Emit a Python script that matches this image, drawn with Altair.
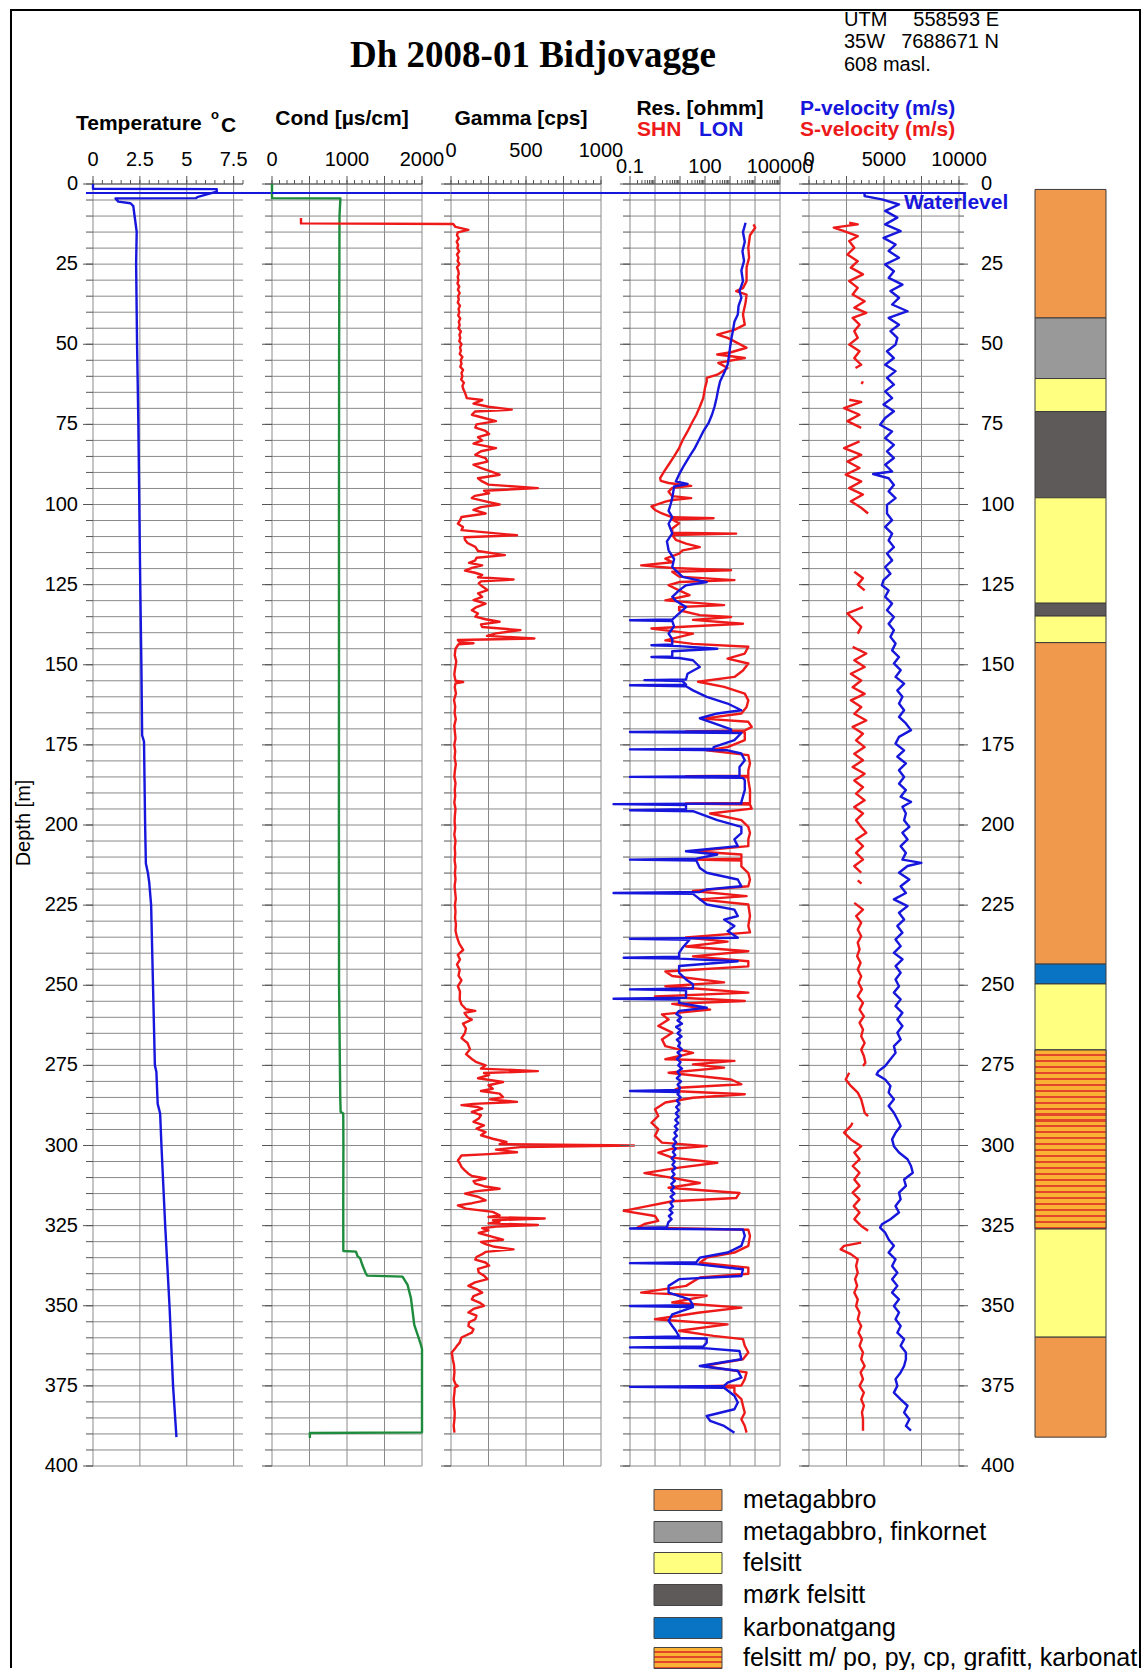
import altair as alt
import pandas as pd

# ------------------------------------------------------------------
# Borehole Dh 2008-01, Bidjovagge - geophysical logs vs depth (m)
# ------------------------------------------------------------------
WATERLEVEL = 2.8

# Temperature (deg C)
temperature = [
    (0.0, 0.0), (1.5, 0.0), (1.6, 6.6), (2.4, 6.6), (4.0, 5.6), (4.4, 5.5), (4.5, 1.2),
    (5.5, 1.35), (6.0, 2.0), (6.9, 2.15), (9.2, 2.2), (14.9, 2.33), (25, 2.3), (50, 2.35),
    (75, 2.42), (100, 2.47), (125, 2.52), (150, 2.58), (172, 2.62), (174, 2.72), (200, 2.78),
    (212, 2.82), (215, 2.93), (218, 3.0), (225, 3.1), (250, 3.2), (275, 3.3), (277, 3.38),
    (287, 3.45), (290, 3.58), (300, 3.65), (325, 3.85), (350, 4.08), (375, 4.27), (391, 4.45),
]

# Fluid conductivity (uS/cm)
conductivity = [
    (0.0, 0), (4.4, 0), (4.5, 912), (10, 900), (50, 895), (100, 893), (150, 893), (200, 892),
    (250, 894), (285, 910), (289.5, 915), (290, 950), (300, 952), (320, 950), (332.9, 951),
    (333.1, 1120), (334.5, 1140), (335.2, 1175), (337.3, 1205), (339.9, 1250), (340.6, 1270),
    (340.9, 1740), (343.5, 1808), (347.7, 1853), (351.8, 1875), (356.0, 1897), (359.1, 1942),
    (362.3, 1987), (363.5, 2000), (389.5, 2000), (389.7, 505), (391.3, 505),
]

# Natural gamma (cps)
gamma = [
    (10.6, -1000), (12.3, -1000), (12.5, 15), (13.4, 30), (14.3, 116), (15.1, 45),
    (16, 40), (17, 52), (18, 38), (19, 48), (20, 42), (21, 55), (22, 40), (23, 50), (24, 44), (25, 56),
    (26, 40), (27, 48), (28, 52), (29, 45), (30, 50), (31, 43), (32, 55), (33, 46), (34, 58), (35, 47),
    (36, 52), (37, 45), (38, 60), (39, 50), (40, 56), (41, 48), (42, 62), (43, 52), (44, 58), (45, 50),
    (46, 66), (47, 56), (48, 62), (49, 55), (50, 70), (51, 60), (52, 66), (53, 58), (54, 76), (55, 64),
    (56, 70), (57, 62), (58, 80), (59, 70), (60, 76), (61, 68), (62, 86), (63, 76), (64, 82), (65, 92),
    (66, 100), (66.8, 105), (67.4, 208), (68.5, 150), (69.5, 250), (70.4, 405), (71, 160), (72, 139),
    (73, 220), (74, 300), (75, 170), (76, 162), (77, 230), (78, 254), (79, 180), (80, 208), (81, 150),
    (82.4, 300), (83.4, 200), (84.5, 162), (85.5, 230), (86.6, 243), (87.6, 150), (88.6, 197), (89.6, 260),
    (90.7, 324), (91.8, 180), (92.8, 208), (93.8, 250), (94.9, 579), (95.7, 220), (96.5, 254), (97.3, 160),
    (98, 139), (99, 230), (100, 324), (100.8, 200), (101.7, 150), (102.8, 231), (103.9, 70), (105, 60),
    (106, 46), (107, 80), (108, 70), (109.6, 440), (110.2, 90), (111, 93), (112, 110), (113.2, 162),
    (114.5, 180), (115.8, 359), (116.6, 170), (117.4, 162), (118.2, 120), (119, 208), (119.8, 140),
    (120.6, 93), (121.3, 160), (122, 208), (122.7, 180), (123.4, 417), (124, 200), (124.6, 185),
    (125.6, 210), (126.7, 243), (127.7, 180), (128.8, 208), (129.8, 150), (130.9, 231), (132, 170),
    (133, 139), (134, 180), (135, 162), (135.8, 230), (136.6, 324), (137.4, 200), (138.2, 208),
    (139.2, 463), (140.2, 300), (141, 240), (141.8, 556), (142.3, 46), (143, 60), (143.3, 150), (143.6, 50),
    (145, 30), (147, 25), (149, 35), (151, 28), (153, 22), (155, 30), (155.4, 81), (155.8, 30), (157, 25),
    (159, 33), (161, 20), (163, 28), (165, 24), (167, 32), (169, 22), (171, 26), (173, 30), (175, 22),
    (177, 28), (179, 24), (181, 32), (183, 26), (185, 22), (187, 30), (189, 25), (191, 28), (193, 22),
    (195, 30), (197, 26), (199, 24), (201, 28), (203, 22), (205, 30), (207, 25), (209, 28), (211, 24),
    (213, 30), (215, 26), (217, 30), (219, 24), (221, 28), (223, 32), (225, 26), (227, 30), (229, 27),
    (231, 33), (233, 30), (235, 40), (237, 55), (239, 81), (240.5, 45), (242, 60), (243.5, 40), (245.2, 58),
    (247, 50), (248.5, 70), (250.3, 46), (252, 60), (254.4, 58), (256, 70), (257.5, 100), (258, 162),
    (258.6, 90), (260, 110), (260.7, 139), (262, 80), (263.5, 100), (264.9, 93), (266.5, 70), (268, 110),
    (270, 127), (271.5, 100), (273, 139), (274, 170), (275, 231), (276, 200), (276.8, 579), (277.4, 220),
    (278, 254), (279, 180), (280.2, 347), (281.2, 250), (282.3, 278), (283, 200), (283.8, 324), (284.9, 347),
    (285.6, 260), (286.4, 440), (287, 150), (287.4, 70), (288, 180), (288.5, 208), (289.5, 139), (290.5, 200),
    (291.6, 185), (292.6, 150), (293.7, 220), (294.7, 170), (295.8, 231), (296.8, 200), (297.9, 278),
    (298.9, 370), (299.6, 324), (300.0, 1220), (300.5, 463), (301.3, 300), (302.1, 440), (302.7, 250),
    (303.1, 70), (304.7, 46), (305.7, 60), (306.7, 70), (307.7, 90), (308.8, 116), (309.5, 140), (310.3, 231),
    (311.1, 150), (311.9, 162), (312.7, 220), (313.5, 324), (314.3, 160), (315, 93), (316, 180), (317.1, 231),
    (318, 140), (318.7, 46), (319.7, 100), (320.7, 278), (321.8, 324), (322.3, 250), (322.8, 625), (323.3, 280),
    (323.8, 324), (324.3, 250), (324.8, 579), (325.3, 300), (325.8, 208), (326.5, 250), (327.3, 185),
    (328.3, 260), (329.4, 347), (330.1, 200), (330.8, 231), (331.6, 290), (332.4, 417), (333.2, 230),
    (333.9, 208), (334.8, 170), (335.6, 162), (336.5, 230), (337.5, 254), (338.5, 180), (339.6, 185),
    (340.6, 220), (341.7, 243), (342.7, 160), (343.8, 116), (344.8, 170), (345.9, 208), (347, 150), (348, 139),
    (349, 190), (350, 220), (351, 150), (352.1, 116), (353.1, 170), (354.2, 162), (355.2, 120), (356.3, 116),
    (357.3, 150), (358.4, 139), (359.9, 70), (361.5, 58), (362.5, 40), (363.6, 23), (364.6, 5), (366.7, 12),
    (368.5, 20), (370.8, 23), (373, 18), (374.5, 30), (375, 46), (375.5, 25), (377.1, 23), (379, 18),
    (381.2, 20), (383.3, 25), (385.4, 23), (387.5, 18), (389.6, 23),
]

# Resistivity, long normal (ohmm)
res_lon = [
    (12.1, 4200), (15, 3300), (18, 3900), (21, 3150), (24, 3650), (27, 2850), (30.3, 3300), (33.4, 2400),
    (35.5, 2850), (38, 2200), (40.7, 2050), (43, 1500), (45.9, 1300), (48, 1150), (51.1, 1000), (53.5, 920),
    (56.4, 800), (59, 580), (61.6, 400), (64, 340), (66.8, 290), (69.5, 240), (72, 190), (74.5, 140),
    (77.2, 85), (79.8, 58), (82.4, 39), (85, 24), (87.6, 15), (90.2, 9.8), (92.8, 6.8), (93.6, 20),
    (94.4, 5.8), (96, 5.4), (98, 4.9), (100, 4.2), (102, 3.5),
    (103.9, 4.9), (106, 3.5), (109, 4.9), (111.5, 3.0), (114.3, 3.5), (117, 5.8), (119.5, 4.9), (122.6, 12.6),
    (124.2, 117), (125.2, 17.4), (126.8, 9.2), (128.8, 4.9), (130, 6.8), (132, 17.4), (134, 9.2), (135.9, 4.9),
    (136.1, 0.1), (136.4, 4.9), (138, 5.8), (140.3, 3.5), (142, 4.9), (143.7, 4.9), (143.9, 0.72), (144.2, 9.2),
    (145, 310), (145.8, 4.9), (147.4, 4.9), (147.6, 0.72), (147.9, 9.2), (148.6, 33), (150.7, 62), (152.8, 20),
    (154.6, 17.4), (154.8, 0.38), (155.1, 12.6), (156.2, 17.4), (156.4, 0.1), (156.7, 17.4), (158, 33),
    (160, 117), (162.1, 800), (164.2, 2850), (165.2, 310), (166.7, 62), (168.2, 220), (170.2, 1100),
    (170.7, 1100), (171.0, 0.1), (171.3, 2850), (173.5, 1500), (175.7, 220), (176.2, 220), (176.4, 0.1),
    (176.7, 800), (177.7, 2850), (179.8, 3900), (181.9, 2400), (184.7, 2400), (185.0, 0.1), (185.3, 3300),
    (186, 3900), (189.1, 3900), (192.8, 2850), (193.3, 2850), (193.5, 0.022), (193.8, 17.4), (195.1, 17.4),
    (195.4, 0.1), (195.7, 33), (198.5, 310), (200.6, 2850),
    (202.5, 2850), (204.5, 1500), (206.6, 2050), (208.2, 17.4), (209.2, 310), (210.5, 45), (210.8, 0.1),
    (211.1, 45), (213.4, 62), (214.9, 117), (217, 2050), (219.1, 2850), (220.1, 117), (220.9, 62),
    (221.2, 0.022), (221.5, 33), (224.8, 117), (226.4, 1500), (228.4, 2050), (229.5, 580), (231.5, 1500),
    (233.1, 800), (235.2, 2050), (235.5, 0.1), (235.8, 24), (238.3, 12.6), (239.9, 9.2), (241.1, 9.2),
    (241.4, 0.056), (241.7, 9.2), (242.5, 2050), (244, 9.2), (246.1, 9.2), (248.2, 17.4), (249.7, 33),
    (251, 33), (251.3, 0.1), (251.6, 17.4), (253.9, 17.4), (254.2, 0.022), (254.5, 9.2), (255.5, 9.2),
    (257, 117), (258, 9.2), (259, 7.2), (260, 11), (261, 8), (262, 12), (263, 7), (264, 10.5), (265, 8),
    (266, 11.5), (267, 7.5), (268, 10), (269, 8.5), (270, 12), (271, 8), (272, 11), (273, 7.5), (274, 10.5),
    (275, 8.5), (276, 12), (277, 8), (278, 10), (279, 7.5), (280, 11), (281, 8), (282, 10), (282.7, 9.2),
    (283.0, 0.1), (283.3, 9.2), (284, 8), (285, 10.5), (286, 7.5), (287, 9.5), (288, 7), (289, 9),
    (290, 6.8), (291, 8.8), (292, 6.5), (293, 8.5), (294, 6.2), (295, 8), (296, 6), (297, 7.5), (298, 5.5),
    (299, 7), (300.2, 5.2), (301, 6.8), (302, 5.2), (303, 6.5), (304, 4.6), (305, 6.2), (306, 5),
    (307, 6.6), (308, 4.8), (309, 6), (310, 4.6), (311, 6.2), (312, 4.5), (313, 5.8), (314, 4.4), (315, 6),
    (316, 4.2), (317, 5.6), (318, 4.2), (319, 5.2), (320, 3.8), (321, 5), (322, 3.6), (323, 4.6),
    (324, 3.4), (325.5, 3.0), (325.9, 0.1), (326.2, 3300), (328.2, 3900), (331.3, 2850), (333.4, 800),
    (335, 62), (336.4, 45), (336.7, 0.1), (337, 45), (338.6, 3300), (340.7, 2850), (341.7, 9.2),
    (343.8, 3.5), (345.9, 3.5), (348, 24), (349.8, 33), (350.1, 0.1), (350.4, 33), (352.7, 4.9),
    (354.7, 3.5), (356.3, 4.9), (357.8, 6.8), (359.6, 9.2), (359.9, 0.1), (360.2, 117), (361.5, 117),
    (362.7, 85), (363.0, 0.1), (363.3, 117), (364.1, 2400), (366.7, 2850), (368.8, 62), (370.3, 2050),
    (372.4, 2850), (374, 800), (375, 580), (375.3, 0.1), (375.6, 580), (378.1, 1500), (380.2, 2050),
    (382.3, 1500), (384.4, 117), (385.9, 160), (387.5, 580), (389.6, 1500),
]

# Resistivity, short normal (ohmm)
res_shn = [
    (12.6, 8700), (13.6, 10200), (16, 6300), (19.9, 5400), (23, 5800), (26, 4600), (30.3, 4600),
    (32.5, 3300), (33.4, 1760), (34.5, 4600), (37, 4200), (40.7, 3300), (43.9, 3900), (45.5, 1500),
    (47, 310), (48, 800), (49.1, 1500), (50.5, 3300), (51.1, 4600), (52.5, 1100), (53.2, 310),
    (54.3, 3900), (55.8, 340), (57.4, 800), (59.5, 310), (60.5, 117), (61.6, 117), (63.6, 100),
    (66.8, 85), (69.5, 62), (72, 45), (74.5, 30), (77.2, 20), (79.8, 13), (82.4, 9.2), (85, 5.8),
    (87.6, 3.5), (89.5, 2.4), (91.8, 1.6), (92.6, 1.7), (93.3, 3.5), (94.2, 28), (94.8, 4.9), (96, 3.5),
    (97.4, 4.9), (98, 28), (98.6, 4.9), (99.1, 2.6), (100.6, 0.72), (101.7, 1.0),
    (102.8, 1.9), (104, 4.9), (104.3, 220), (104.7, 4.9), (105.9, 9.2), (107.5, 4.9), (108.8, 4.9),
    (109.1, 1760), (109.5, 4.9), (111, 6.8), (112.2, 17.4), (113.3, 62), (114.3, 12.6), (115.3, 9.2),
    (116.9, 2.6), (118, 4.9), (119, 0.28), (119.8, 4.9), (120.5, 1100), (121, 4.9), (122.5, 9.2),
    (123.6, 1500), (124.2, 9.2), (125.2, 3.5), (126.8, 9.2), (128.3, 24), (129.9, 2.6), (131.4, 580),
    (132, 9.2), (133, 9.2), (134.5, 62), (135.1, 1100), (136, 33), (137.2, 3300), (138, 33), (138.7, 0.72),
    (139.5, 4.9), (140.3, 33), (142.4, 2.6), (143.5, 33), (144.4, 5400), (146.5, 3900), (148.1, 800),
    (149.6, 5400), (151.8, 3300), (153.8, 1500), (155.3, 53), (156.9, 580), (159, 3900), (161.1, 5400),
    (163.2, 4600), (165.2, 2850), (166.8, 85), (167.8, 5400), (169.4, 7400), (170.5, 3900), (170.8, 17.4),
    (171.1, 3900), (173.5, 3900), (175.7, 800), (176.7, 117), (178.2, 5400), (180.8, 6300), (182.9, 5400),
    (184.6, 5400), (184.8, 17.4), (185.1, 5400), (186, 5400), (189.1, 6300), (192.3, 6300), (193.1, 6300),
    (193.3, 17.4), (193.6, 6300), (194.9, 7400), (196.4, 160), (198.5, 2850), (200.6, 5400),
    (202.5, 6300), (204.5, 5400), (206.6, 5400), (208.2, 33), (209.2, 2850), (210.5, 2850), (210.8, 33),
    (211.1, 2850), (212.9, 2850), (215, 5400), (217, 6300), (219.1, 5400), (220.6, 33), (222.2, 4600),
    (223.2, 62), (224.8, 5400), (228.4, 6300), (231.5, 5400), (233.5, 6300), (235.1, 17.4), (236.4, 800),
    (237.9, 17.4), (239.4, 5400), (241, 33), (242.5, 5400), (244.1, 5400), (245.7, 2.6), (247.1, 4.9),
    (249.1, 580), (250.3, 2.6), (252.3, 5400), (253.5, 1.0), (254.9, 3900), (255.8, 4.9), (257.6, 160),
    (259.1, 1.9), (260.7, 3.5), (262.7, 1.35), (264.8, 4.9), (266.9, 1.9), (269, 2.6), (271.1, 33),
    (273.1, 2.6), (273.6, 1500), (274.7, 33), (275.7, 580), (277.3, 3.5), (279.4, 1100), (280.9, 2850),
    (282, 9.2), (283, 4.9), (284, 3900), (285.1, 33), (286.6, 2.6), (288.7, 1.0), (290.8, 1.35),
    (292.9, 0.72), (294.9, 1.35), (297, 1.0), (299.1, 1.9), (300.2, 117),
    (301, 4.9), (302.2, 1.35), (303.8, 4.9), (305.4, 310), (306.9, 9.2), (308.6, 0.38), (310.1, 4.9),
    (311.7, 62), (313.2, 3.5), (314.8, 2400), (316.4, 1760), (317.4, 4.9), (318.9, 0.5), (320.4, 0.056),
    (322, 1.0), (323.5, 1.35), (324.5, 0.38), (325.6, 0.2), (326.3, 5400), (328.2, 6300), (331.3, 5400),
    (333.4, 1500), (335, 117), (336.6, 62), (338.1, 5400), (340, 5400), (341.2, 62), (343.8, 17.4),
    (345.9, 0.28), (346.9, 117), (349, 4.9), (350.6, 2850), (352.1, 62), (354.2, 1.0), (355.8, 800),
    (357.8, 9.2), (359.4, 220), (360.4, 3300), (362.5, 3900), (364.6, 5400), (366.7, 3300), (368.8, 85),
    (370.8, 4600), (372.9, 3900), (374.9, 2850), (375.2, 24), (375.5, 1500), (377.1, 1500), (379.1, 2850),
    (381.2, 3300), (383.4, 3900), (385.4, 2850), (387.5, 3900), (389.6, 4600),
]

# P-wave velocity (m/s)
p_velocity = [
    (2.9, 3700), (3.8, 3710), (4.8, 4860), (6.4, 6000), (8.4, 5080), (10.5, 5890), (12.6, 5080),
    (14.7, 6110), (16.8, 4970), (18.9, 5770), (20.9, 5310), (23, 6000), (25.1, 5080), (27.2, 5660),
    (29.3, 5310), (31.4, 6230), (33.4, 5430), (35.5, 6000), (37.6, 5540), (39.7, 6570), (41.8, 5310),
    (43.9, 6000), (45.9, 5430), (48, 5890), (50.1, 5770), (52.2, 5200), (54.3, 5660), (56.4, 5080),
    (58.4, 5770), (60.5, 5200), (62.6, 5660), (64.7, 5080), (66.8, 5540), (68.8, 4970), (70.9, 5660),
    (73, 5080), (75.1, 4740), (77.2, 5540), (79.3, 5080), (81.4, 5660), (83.4, 5200), (85.5, 5660),
    (87.6, 5080), (89.7, 5540), (90.5, 4280), (91.8, 5310), (93.9, 5660), (95.9, 5310), (98, 5770),
    (100.1, 5200), (102.8, 5200), (104.9, 5540), (107, 5080), (109.1, 5540), (111.2, 5310), (113.3, 5660),
    (115.3, 5200), (117.4, 5540), (119.5, 5080), (121.6, 5430), (123.6, 4970), (125.2, 4860), (126.8, 5310),
    (128.8, 5080), (130.9, 5540), (133, 5200), (135.1, 5660), (137.2, 5310), (139.2, 5660), (141.3, 5430),
    (143.4, 5770), (145.5, 5540), (147.6, 6000), (149.6, 5660), (151.7, 6110), (153.8, 5770), (155.9, 6340),
    (158, 5890), (160, 6230), (162.1, 6000), (164.2, 6340), (166.3, 6000), (168.3, 6460), (170.4, 6800),
    (172.5, 6000), (174.6, 5770), (176.7, 6340), (178.7, 5890), (180.8, 6460), (182.9, 6000), (185, 6340),
    (187.1, 6000), (189.1, 6460), (191.2, 6110), (192.8, 6800), (194.3, 6230), (196.4, 6460), (198.5, 6340),
    (200.6, 6690), (202.4, 6230), (204.5, 6570), (206.6, 6110), (208.7, 6460), (210.8, 6230), (211.8, 7490),
    (212.8, 6570), (214.9, 6000), (217, 6690), (219.1, 6110), (221.2, 6460), (223.2, 5660), (225.3, 6570),
    (227.4, 6000), (229.5, 6340), (231.5, 5890), (233.6, 6230), (235.7, 5770), (237.8, 6110), (239.9, 5660),
    (241.9, 6230), (244, 5770), (246.1, 6110), (248.2, 5770), (250.3, 6000), (252.3, 5660), (254.4, 6110),
    (256.5, 5770), (258.6, 6230), (260.7, 5890), (262.7, 6230), (264.8, 5890), (266.9, 6110), (269, 5660),
    (271.1, 5770), (273.1, 5430), (275.2, 5080), (276.8, 4630), (277.8, 4510), (279.4, 5080), (281.4, 5430),
    (283.5, 5310), (285.6, 5660), (287.7, 5310), (289.8, 5660), (291.8, 5890), (293.9, 6110), (296, 5770),
    (298.1, 5540), (300.2, 5660), (302.2, 6000), (304.3, 6570), (306.4, 6800), (308.5, 6920), (310.6, 6340),
    (312.6, 6460), (314.7, 6000), (316.8, 6110), (318.9, 5770), (320.9, 6000), (323, 5430), (324.6, 4860),
    (325.6, 4740), (327.2, 5080), (329.3, 5310), (331.3, 5660), (333.4, 5310), (335.5, 5770), (337.6, 5540),
    (339.7, 5890), (341.7, 5540), (343.8, 5890), (345.9, 5540), (348, 6000), (350.1, 5660), (352.1, 6000),
    (354.2, 5770), (356.3, 6110), (358.4, 5890), (360.4, 6340), (362.5, 6110), (364.6, 6460), (366.7, 6460),
    (368.8, 6340), (370.8, 6110), (372.9, 5770), (375, 5890), (377.1, 5660), (379.2, 6110), (381.2, 6570),
    (383.3, 6340), (385.4, 6690), (387.5, 6460), (389, 6800),
]

# S-wave velocity (m/s), picked in separate intervals (interval id, depth, velocity)
s_velocity = [
    (0, 12.1, 2680), (0, 12.6, 3250), (0, 13.6, 1650), (0, 14.7, 2340), (0, 16.3, 3250), (0, 17.8, 2680),
    (0, 19.9, 3020), (0, 22, 2560), (0, 24.1, 3250), (0, 26.1, 2790), (0, 28.2, 3600), (0, 30.3, 2680),
    (0, 32.4, 3250), (0, 34.5, 2910), (0, 36.6, 3710), (0, 38.6, 3020), (0, 40.2, 3820), (0, 41.8, 2910),
    (0, 43.9, 3370), (0, 45.9, 3020), (0, 48, 3250), (0, 50.1, 2680), (0, 52.2, 3370), (0, 54.3, 3020),
    (0, 56.4, 3480), (0, 57.4, 3100),
    (1, 61.6, 3600), (1, 62.4, 3500),
    (2, 67.3, 2680), (2, 68, 3480), (2, 69.9, 2340), (2, 72, 3370), (2, 74, 2560), (2, 76.1, 3480),
    (3, 80.3, 3370), (3, 82.4, 2340), (3, 84.5, 3480), (3, 86.6, 2560), (3, 88.6, 3370), (3, 90.7, 2450),
    (3, 92.8, 3480), (3, 94.9, 2680), (3, 96.9, 3600), (3, 99, 2790), (3, 101, 3480), (3, 102.8, 3940),
    (4, 121, 3020), (4, 123, 3600), (4, 125, 3250), (4, 126.8, 3710),
    (5, 132, 3600), (5, 134, 2560), (5, 136.1, 3020), (5, 138.2, 3480), (5, 140.3, 3250),
    (6, 144.4, 2910), (6, 146.5, 3820), (6, 148.6, 3020), (6, 150.7, 3710), (6, 152.8, 2790), (6, 154.9, 3480),
    (6, 157, 2910), (6, 159.1, 3710), (6, 161.1, 2790), (6, 163.2, 3480), (6, 165.3, 3020), (6, 167.4, 3820),
    (6, 169.4, 2910), (6, 171.5, 3600), (6, 173.6, 3140), (6, 175.7, 3710), (6, 177.8, 3020), (6, 179.8, 3600),
    (6, 181.9, 2910), (6, 184, 3710), (6, 186.1, 3020), (6, 188.2, 3600), (6, 190.2, 3140), (6, 192.3, 3710),
    (6, 194.4, 3020), (6, 196.4, 3600), (6, 198.5, 3140), (6, 200.6, 3480), (6, 202.4, 3820), (6, 204.5, 3140),
    (6, 206.6, 3600), (6, 208.7, 3140), (6, 210.8, 3600), (6, 212.8, 3020), (6, 214.9, 3480),
    (7, 217.3, 3250), (7, 218.3, 3500),
    (8, 224.3, 3020), (8, 226.4, 3600), (8, 228.4, 3140), (8, 230.5, 3480), (8, 232.6, 3250), (8, 234.7, 3480),
    (8, 236.7, 3250), (8, 238.8, 3370), (8, 240.9, 3210), (8, 243, 3440), (8, 245.1, 3250), (8, 247.2, 3480),
    (8, 249.2, 3300), (8, 251.3, 3530), (8, 253.4, 3250), (8, 255.5, 3600), (8, 257.6, 3370), (8, 259.7, 3660),
    (8, 261.7, 3370), (8, 263.8, 3600), (8, 265.9, 3480), (8, 268, 3710), (8, 270.1, 3480), (8, 272.1, 3660),
    (8, 274.2, 3760), (8, 275.2, 3600),
    (9, 277.3, 2680), (9, 279.4, 2450), (9, 281.4, 2790), (9, 283.5, 3250), (9, 285.6, 3480), (9, 287.7, 3600),
    (9, 289.8, 3710), (9, 290.8, 3940),
    (10, 292.9, 2900), (10, 293.9, 2790), (10, 296, 2340), (10, 298.1, 2790), (10, 300.2, 3480), (10, 302.2, 3020),
    (10, 304.3, 3370), (10, 306.4, 2910), (10, 308.5, 3370), (10, 310.6, 3020), (10, 312.6, 3370), (10, 314.7, 2910),
    (10, 316.8, 3370), (10, 318.9, 2980), (10, 320.9, 3370), (10, 323, 3020), (10, 325.1, 3480), (10, 326.6, 3940),
    (11, 330.3, 3480), (11, 331.3, 2340), (11, 332.4, 2110), (11, 333.9, 2790), (11, 335.5, 3250), (11, 337.6, 3140),
    (11, 339.7, 3250), (11, 341.7, 3070), (11, 343.8, 3210), (11, 345.9, 3020), (11, 348, 3250), (11, 350.1, 3140),
    (11, 352.1, 3370), (11, 354.2, 3250), (11, 356.3, 3480), (11, 358.4, 3300), (11, 360.4, 3530), (11, 362.5, 3370),
    (11, 364.6, 3600), (11, 366.7, 3480), (11, 368.8, 3710), (11, 370.8, 3440), (11, 372.9, 3600), (11, 375, 3370),
    (11, 377.1, 3660), (11, 379.2, 3480), (11, 381.2, 3660), (11, 383.3, 3530), (11, 385.4, 3600), (11, 387.5, 3600),
    (11, 389, 3600),
]

# Lithology log
litho_units = ["metagabbro", "metagabbro, finkornet", "felsitt", "mørk felsitt", "karbonatgang",
               "felsitt m/ po, py, cp, grafitt, karbonat"]
litho_colors = ["#F0994C", "#999999", "#FFFF80", "#5E5A5A", "#0A74C4", "#F9B233"]
litho_top = [1.7, 41.8, 60.7, 71.0, 97.9, 130.8, 134.8, 143.1, 243.4, 249.6, 270.2, 326.0, 359.8]
litho_bottom = [41.8, 60.7, 71.0, 97.9, 130.8, 134.8, 143.1, 243.4, 249.6, 270.2, 326.0, 359.8, 391.0]
litho_code = [0, 1, 2, 3, 2, 3, 2, 0, 4, 2, 5, 2, 0]

# ------------------------------------------------------------------
# styling
# ------------------------------------------------------------------
BLUE = "#1616DC"
RED = "#EE1A1A"
GREEN = "#1E8C3C"
GRID = "#8A8A8A"
TICK = "#555555"
SANS = "Liberation Sans"
SERIF = "Liberation Serif"
STRIPE_BASE = "#F9B233"
STRIPE_LINE = "#E2472A"
LINE_W = 2.4

PW, PH, GAP = 150, 1282, 29

temp_df = pd.DataFrame(temperature, columns=["depth", "temp"])
cond_df = pd.DataFrame(conductivity, columns=["depth", "cond"])
gamma_df = pd.DataFrame(gamma, columns=["depth", "cps"])
lon_df = pd.DataFrame(res_lon, columns=["depth", "res"])
shn_df = pd.DataFrame(res_shn, columns=["depth", "res"])
vp_df = pd.DataFrame(p_velocity, columns=["depth", "vel"])
vs_df = pd.DataFrame(s_velocity, columns=["seg", "depth", "vel"])
litho_df = pd.DataFrame({"top": litho_top, "bottom": litho_bottom,
                         "unit": [litho_units[i] for i in litho_code]})

depth_scale = alt.Scale(domain=[0, 400], reverse=True, nice=False, zero=False)
minor_depths = list(range(0, 401, 5))
major_depths = list(range(0, 401, 25))
litho_scale = alt.Scale(domain=litho_units, range=litho_colors)


def ydepth(field="depth"):
    return alt.Y(f"{field}:Q", scale=depth_scale, axis=None)


def curve(df, field, scale, color, detail=None):
    enc = {"x": alt.X(f"{field}:Q", scale=scale, axis=None),
           "y": ydepth(),
           "order": alt.Order("depth:Q")}
    if detail:
        enc["detail"] = alt.Detail(f"{detail}:N")
    return alt.Chart(df).mark_line(color=color, strokeWidth=LINE_W, strokeJoin="round").encode(**enc)


def depth_rules(depths, x0, x1, color):
    return alt.Chart(pd.DataFrame({"depth": depths})).mark_rule(color=color, strokeWidth=1).encode(
        y=ydepth(), x=alt.value(x0), x2=alt.value(x1))


def value_rules(values, field, scale, y0, y1, color):
    return alt.Chart(pd.DataFrame({field: values})).mark_rule(color=color, strokeWidth=1).encode(
        x=alt.X(f"{field}:Q", scale=scale, axis=None), y=alt.value(y0), y2=alt.value(y1))


def value_labels(values, labels, field, scale, y):
    return alt.Chart(pd.DataFrame({field: values, "lab": labels})).mark_text(
        font=SANS, fontSize=20, color="black", align="center", baseline="middle").encode(
        x=alt.X(f"{field}:Q", scale=scale, axis=None), y=alt.value(y), text="lab:N")


def scaffold(field, scale, majors, minors, label_values, label_texts, label_y, grid_right=PW):
    """Grid, tick marks and tick labels of one log track."""
    return [
        depth_rules(minor_depths, 0, grid_right, GRID),
        value_rules(majors, field, scale, 0, PH, GRID),
        depth_rules(minor_depths, -7, 0, TICK),
        depth_rules(major_depths, -10, 0, TICK),
        value_rules(minors, field, scale, -4, 0, TICK),
        value_rules(majors, field, scale, -8, 0, TICK),
        alt.Chart(pd.DataFrame({"k": [0]})).mark_rule(color=TICK, strokeWidth=1).encode(
            x=alt.value(0), x2=alt.value(grid_right), y=alt.value(0)),
        value_labels(label_values, label_texts, field, scale, label_y),
    ]


def water(x0, x1):
    return alt.Chart(pd.DataFrame({"depth": [WATERLEVEL]})).mark_rule(color=BLUE, strokeWidth=2).encode(
        y=ydepth(), x=alt.value(x0), x2=alt.value(x1))


def text(t, x, y, size=21, weight="normal", color="black", align="left", font=SANS,
         baseline="alphabetic", angle=None, limit=None):
    kw = dict(fontSize=size, fontWeight=weight, color=color, align=align, font=font, baseline=baseline)
    if angle is not None:
        kw["angle"] = angle
    if limit is not None:
        kw["limit"] = limit
        kw["ellipsis"] = " "
    return alt.Chart(pd.DataFrame({"t": [t]})).mark_text(**kw).encode(
        text="t:N", x=alt.value(x), y=alt.value(y))


def stripes(n, frac):
    stops = []
    for k in range(n):
        a, b, c = k / n, (k + 1 - frac) / n, (k + 1) / n
        stops += [{"offset": a, "color": STRIPE_BASE}, {"offset": b, "color": STRIPE_BASE},
                  {"offset": b, "color": STRIPE_LINE}, {"offset": c, "color": STRIPE_LINE}]
    return {"gradient": "linear", "x1": 0, "y1": 0, "x2": 0, "y2": 1, "stops": stops}


def frange(a, b, step):
    out, v = [], a
    while v <= b + 1e-9:
        out.append(round(v, 6))
        v += step
    return out


# ------------------------------------------------------------------
# panels
# ------------------------------------------------------------------
temp_scale = alt.Scale(domain=[0, 8], nice=False, zero=False)
temp_panel = alt.layer(
    *scaffold("temp", temp_scale, [0, 2.5, 5, 7.5], frange(0, 8, 0.5),
              [0, 2.5, 5, 7.5], ["0", "2.5", "5", "7.5"], -24),
    alt.Chart(pd.DataFrame({"depth": major_depths})).mark_text(
        font=SANS, fontSize=20, align="right", baseline="middle", color="black").encode(
        y=ydepth(), text="depth:Q", x=alt.value(-15)),
    curve(temp_df, "temp", temp_scale, BLUE),
    water(-7, PW + GAP),
    text("Temperature", -17, -54, weight="bold"),
    text("o", 118, -65, size=13, weight="bold"),
    text("C", 128, -52, weight="bold"),
    text("Depth [m]", -69, 639, size=20, align="center", baseline="middle", angle=270),
    # page frame
    alt.Chart(pd.DataFrame({"k": [0]})).mark_rule(color="black", strokeWidth=2).encode(
        x=alt.value(-82), y=alt.value(-174), y2=alt.value(1484)),
    alt.Chart(pd.DataFrame({"k": [0]})).mark_rule(color="black", strokeWidth=2).encode(
        x=alt.value(-83), x2=alt.value(1048), y=alt.value(-174)),
    alt.Chart(pd.DataFrame({"k": [0]})).mark_rule(color="black", strokeWidth=2).encode(
        x=alt.value(1047), y=alt.value(-174), y2=alt.value(1484)),
).properties(width=PW, height=PH)

cond_scale = alt.Scale(domain=[0, 2000], nice=False, zero=False)
cond_panel = alt.layer(
    *scaffold("cond", cond_scale, [0, 500, 1000, 1500, 2000], frange(0, 2000, 100),
              [0, 1000, 2000], ["0", "1000", "2000"], -24),
    curve(cond_df, "cond", cond_scale, GREEN),
    water(0, PW + GAP),
    text("Cond [µs/cm]", 70, -59, weight="bold", align="center"),
).properties(width=PW, height=PH)

gamma_scale = alt.Scale(domain=[0, 1000], nice=False, zero=False)
gamma_panel = alt.layer(
    *scaffold("cps", gamma_scale, [0, 250, 500, 750, 1000], frange(0, 1000, 50),
              [0, 500, 1000], ["0", "500", "1000"], -33),
    curve(gamma_df, "cps", gamma_scale, RED),
    water(0, PW + GAP),
    text("Gamma [cps]", 70, -59, weight="bold", align="center"),
    text("Dh 2008-01 Bidjovagge", 82, -117, size=37, weight="bold", align="center", font=SERIF),
).properties(width=PW, height=PH)

res_scale = alt.Scale(type="log", domain=[0.1, 100000], nice=False)
res_minor = [m * 10.0 ** e for e in range(-1, 5) for m in range(2, 10)]
legend_rows = [1316, 1348, 1379, 1411, 1444, 1474]
legend_layers = []
for i, (name, col) in enumerate(zip(litho_units, litho_colors)):
    fill = stripes(4, 0.35) if i == 5 else col
    legend_layers.append(
        alt.Chart(pd.DataFrame({"k": [i]})).mark_rect(fill=fill, stroke="#444444", strokeWidth=1).encode(
            x=alt.value(24), x2=alt.value(92),
            y=alt.value(legend_rows[i] - 10.5), y2=alt.value(legend_rows[i] + 10.5)))
    legend_layers.append(text(name, 113, legend_rows[i], size=25, baseline="middle", limit=396))

res_panel = alt.layer(
    *scaffold("res", res_scale, [0.1, 1, 10, 100, 1000, 10000, 100000], res_minor,
              [0.1, 100, 100000], ["0.1", "100", "100000"], -17),
    curve(shn_df, "res", res_scale, RED),
    curve(lon_df, "res", res_scale, BLUE),
    water(0, PW + GAP),
    text("Res. [ohmm]", 70, -69, weight="bold", align="center"),
    text("SHN", 7, -48, weight="bold", color=RED),
    text("LON", 69, -48, weight="bold", color=BLUE),
    *legend_layers,
).properties(width=PW, height=PH)

vel_scale = alt.Scale(domain=[0, 10000], nice=False, zero=False)
vel_panel = alt.layer(
    *scaffold("vel", vel_scale, [0, 2500, 5000, 7500, 10000], frange(0, 10000, 500),
              [0, 5000, 10000], ["0", "5000", "10000"], -24),
    depth_rules(minor_depths, PW, PW + 5, TICK),
    depth_rules(major_depths, PW, PW + 9, TICK),
    alt.Chart(pd.DataFrame({"depth": major_depths})).mark_text(
        font=SANS, fontSize=20, align="left", baseline="middle", color="black").encode(
        y=ydepth(), text="depth:Q", x=alt.value(172)),
    # lithology column
    alt.Chart(litho_df).mark_rect(stroke="#3C3C3C", strokeWidth=1).encode(
        x=alt.value(226), x2=alt.value(297),
        y=ydepth("top"), y2="bottom:Q",
        color=alt.Color("unit:N", scale=litho_scale, legend=None)),
    alt.Chart(litho_df[litho_df["unit"] == litho_units[5]]).mark_rect(
        fill=stripes(30, 0.35), stroke="#3C3C3C", strokeWidth=1).encode(
        x=alt.value(226), x2=alt.value(297),
        y=ydepth("top"), y2="bottom:Q"),
    curve(vs_df, "vel", vel_scale, RED, detail="seg"),
    curve(vp_df, "vel", vel_scale, BLUE),
    water(0, PW + 7),
    text("Waterlevel", 95, 25, weight="bold", color=BLUE),
    text("P-velocity (m/s)", -9, -69, weight="bold", color=BLUE),
    text("S-velocity (m/s)", -9, -48, weight="bold", color=RED),
    text("UTM", 35, -158, size=20),
    text("558593 E", 190, -158, size=20, align="right"),
    text("35W", 35, -136, size=20),
    text("7688671 N", 190, -136, size=20, align="right"),
    text("608 masl.", 35, -113, size=20),
).properties(width=PW, height=PH)

chart = alt.hconcat(
    temp_panel, cond_panel, gamma_panel, res_panel, vel_panel, spacing=GAP, bounds="flush"
).properties(
    padding={"left": 9, "top": 9, "right": 0, "bottom": 0}
).configure_view(strokeWidth=0)

chart.save("out.html", embed_options={"renderer": "svg", "actions": False})
